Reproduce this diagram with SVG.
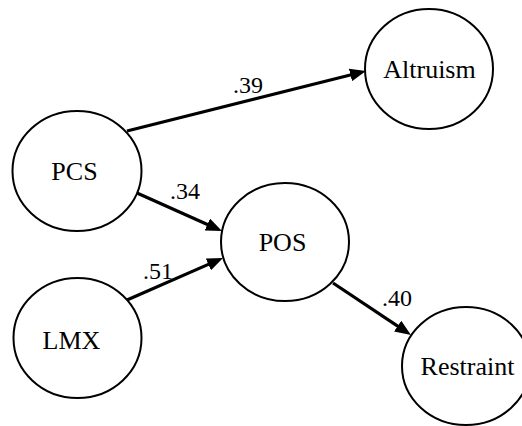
<svg xmlns="http://www.w3.org/2000/svg" width="522" height="426" viewBox="0 0 522 426">
<style>
.node ellipse{fill:#fff;stroke:#000;stroke-width:2}
.node text{font-size:26px;fill:#000;text-anchor:middle}
.edge line{stroke:#000;stroke-width:3.2;marker-end:url(#ah)}
.lbl{font-size:24px;fill:#000;text-anchor:middle}
</style>
<defs>
<marker id="ah" markerUnits="userSpaceOnUse" markerWidth="16" markerHeight="13" refX="5" refY="6.5" orient="auto">
<path d="M0,0 L16,6.5 L0,13 z" fill="#000"/>
</marker>
</defs>
<rect width="522" height="426" fill="#fff"/>
<g id="connectors" class="edge" font-family="'Liberation Serif', 'DejaVu Serif', serif">
<line x1="127" y1="131" x2="355.3" y2="73.7"/>
<line x1="137" y1="193" x2="211.9" y2="226.5"/>
<line x1="127" y1="300" x2="212.9" y2="262.4"/>
<line x1="333" y1="283" x2="401.8" y2="328.9"/>
<text class="lbl" x="248" y="93">.39</text>
<text class="lbl" x="185" y="199">.34</text>
<text class="lbl" x="158" y="279">.51</text>
<text class="lbl" x="397" y="306">.40</text>
</g>
<g id="altruism" class="node" font-family="'Liberation Serif', 'DejaVu Serif', serif">
<ellipse cx="429" cy="69" rx="64" ry="60"/>
<text x="429.5" y="78">Altruism</text>
</g>
<g id="pcs" class="node" font-family="'Liberation Serif', 'DejaVu Serif', serif">
<ellipse cx="77" cy="171" rx="64.5" ry="60"/>
<text x="74.5" y="180">PCS</text>
</g>
<g id="pos" class="node" font-family="'Liberation Serif', 'DejaVu Serif', serif">
<ellipse cx="285" cy="242" rx="64" ry="59"/>
<text x="282.5" y="250.5">POS</text>
</g>
<g id="lmx" class="node" font-family="'Liberation Serif', 'DejaVu Serif', serif">
<ellipse cx="77.5" cy="338" rx="64" ry="60"/>
<text x="71.5" y="349">LMX</text>
</g>
<g id="restraint" class="node" font-family="'Liberation Serif', 'DejaVu Serif', serif">
<ellipse cx="466" cy="366" rx="64" ry="59"/>
<text x="467.5" y="375">Restraint</text>
</g>
</svg>
